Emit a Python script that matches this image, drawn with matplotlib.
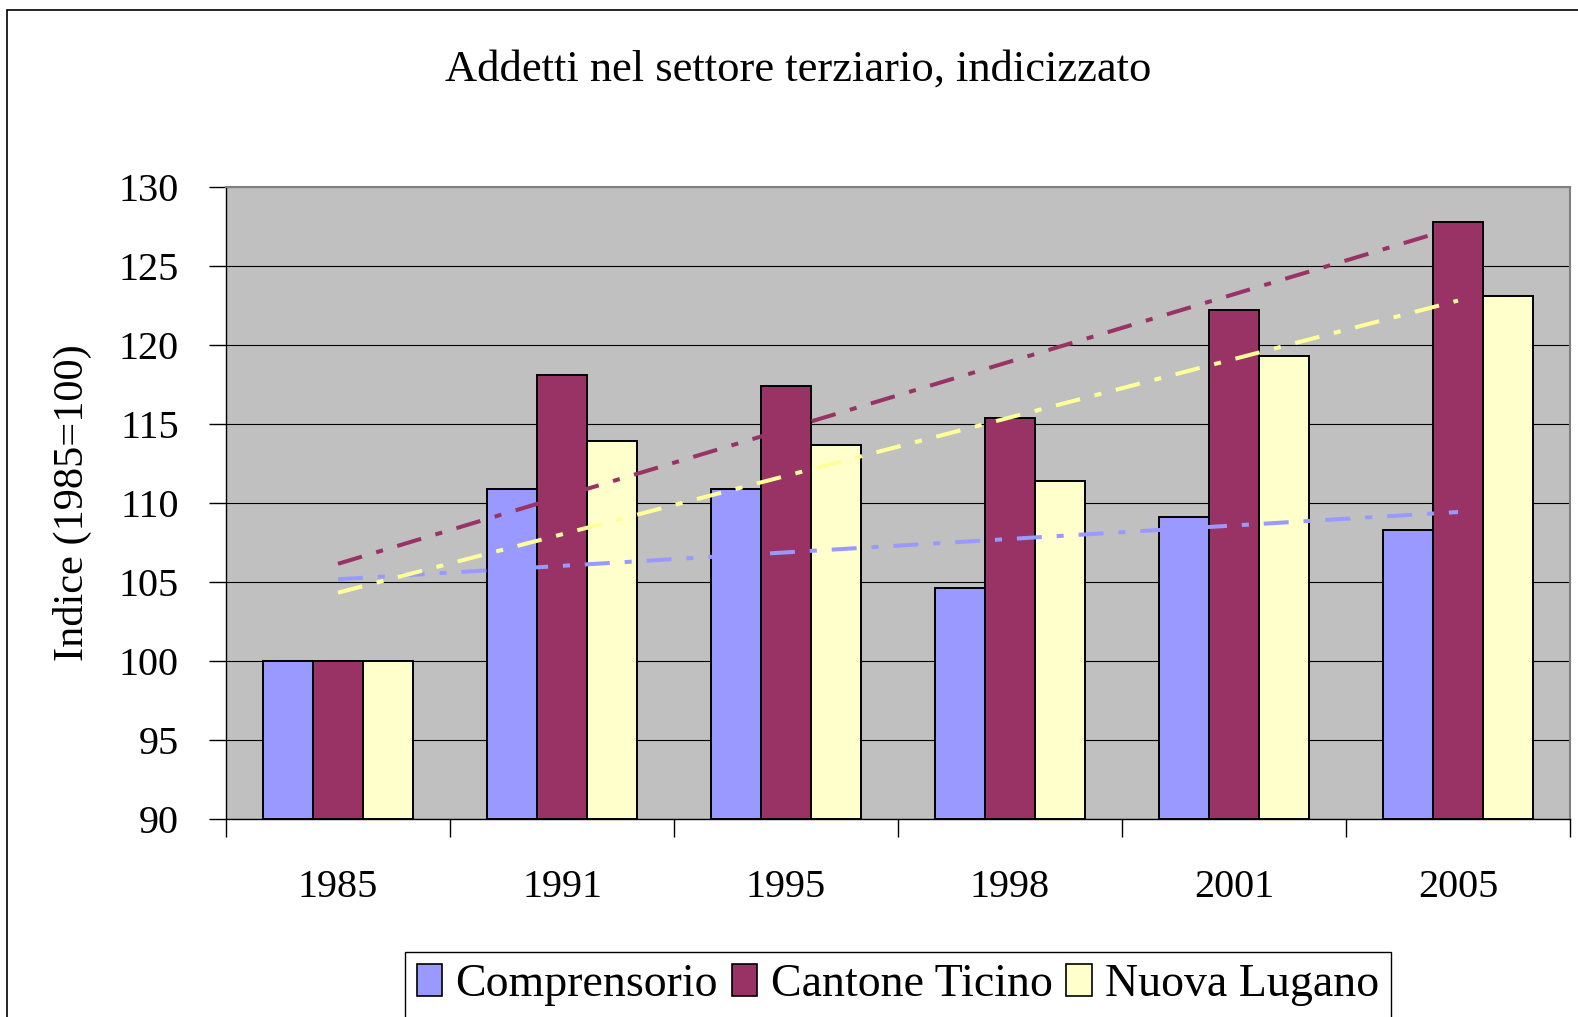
import numpy as np
import matplotlib
matplotlib.use("Agg")
import matplotlib.pyplot as plt
from matplotlib.patches import Rectangle, Patch

plt.rcParams['font.family'] = ['Liberation Serif', 'DejaVu Serif']

years = ["1985", "1991", "1995", "1998", "2001", "2005"]
series_names = ["Comprensorio", "Cantone Ticino", "Nuova Lugano"]
comprensorio = [100.0, 110.9, 110.9, 104.6, 109.1, 108.3]
cantone = [100.0, 118.1, 117.4, 115.4, 122.2, 127.8]
nuova = [100.0, 113.9, 113.7, 111.4, 119.3, 123.1]
y_ticks = [90, 95, 100, 105, 110, 115, 120, 125, 130]

bar_colors = ["#9999FF", "#993366", "#FFFFCC"]
trend_colors = ["#9999FF", "#993366", "#FFFF99"]

W, H = 1578, 1017
fig = plt.figure(figsize=(W / 100, H / 100), dpi=100)
fig.patch.set_facecolor("white")

# outer chart border (left and top visible)
fig.patches.append(Rectangle((7 / W, -0.02), 1.05, 1 - 10 / H + 0.02,
                             transform=fig.transFigure, fill=False,
                             edgecolor="black", linewidth=1.2))

ax = fig.add_axes([226 / W, 1 - 819 / H, (1570 - 226) / W, (819 - 187) / H])
ax.set_facecolor("#C0C0C0")

x = np.arange(len(years))
bw = 0.222
data = [comprensorio, cantone, nuova]
for i, (vals, col) in enumerate(zip(data, bar_colors)):
    ax.bar(x + (i - 1) * bw, np.array(vals) - 90, bottom=90, width=bw,
           color=col, edgecolor="black", linewidth=1.4, zorder=2)

# linear trendlines (as in spreadsheet)
for vals, col in zip(data, trend_colors):
    k, b = np.polyfit(x, vals, 1)
    ax.plot([x[0], x[-1]], [k * x[0] + b, k * x[-1] + b], color=col,
            linewidth=2.9, linestyle=(0, (6.2, 3.7, 1.75, 3.7)),
            solid_capstyle="butt", dash_capstyle="butt", zorder=3)

ax.set_xlim(-0.5, len(years) - 0.5)
ax.set_ylim(90, 130)
ax.set_yticks(y_ticks)
ax.set_yticklabels([str(v) for v in y_ticks])
ax.yaxis.grid(True, color="black", linewidth=0.8, zorder=0)
ax.set_axisbelow(True)

ax.set_xticks(x)
ax.set_xticklabels(years)
ax.set_xticks(np.arange(len(years) + 1) - 0.5, minor=True)
ax.tick_params(axis="x", which="major", length=0, pad=36, labelsize=29)
ax.tick_params(axis="x", which="minor", length=13, width=1, color="black")
ax.tick_params(axis="y", length=12, width=1, pad=22, labelsize=29)

for s in ["top", "right"]:
    ax.spines[s].set_color("#808080")
    ax.spines[s].set_linewidth(1.5)
for s in ["left", "bottom"]:
    ax.spines[s].set_color("black")
    ax.spines[s].set_linewidth(1.0)

ax.set_ylabel("Indice (1985=100)", fontsize=30.5)
ax.yaxis.set_label_coords((92 - 226) / (1570 - 226), 0.5)

fig.text(798 / W, 1 - 70 / H, "Addetti nel settore terziario, indicizzato",
         ha="center", va="center", fontsize=32)

handles = [Patch(facecolor=c, edgecolor="black", linewidth=1.2) for c in bar_colors]
leg = fig.legend(handles, series_names, loc="center", ncol=3,
                 bbox_to_anchor=(898 / W, 1 - 985 / H), fontsize=33,
                 frameon=True, fancybox=False, framealpha=1, edgecolor="black",
                 handlelength=0.55, handleheight=0.7, handletextpad=0.3,
                 columnspacing=0.3, borderpad=0.25, borderaxespad=0)
leg.get_frame().set_linewidth(1.0)

fig.savefig("out.png", dpi=100)
